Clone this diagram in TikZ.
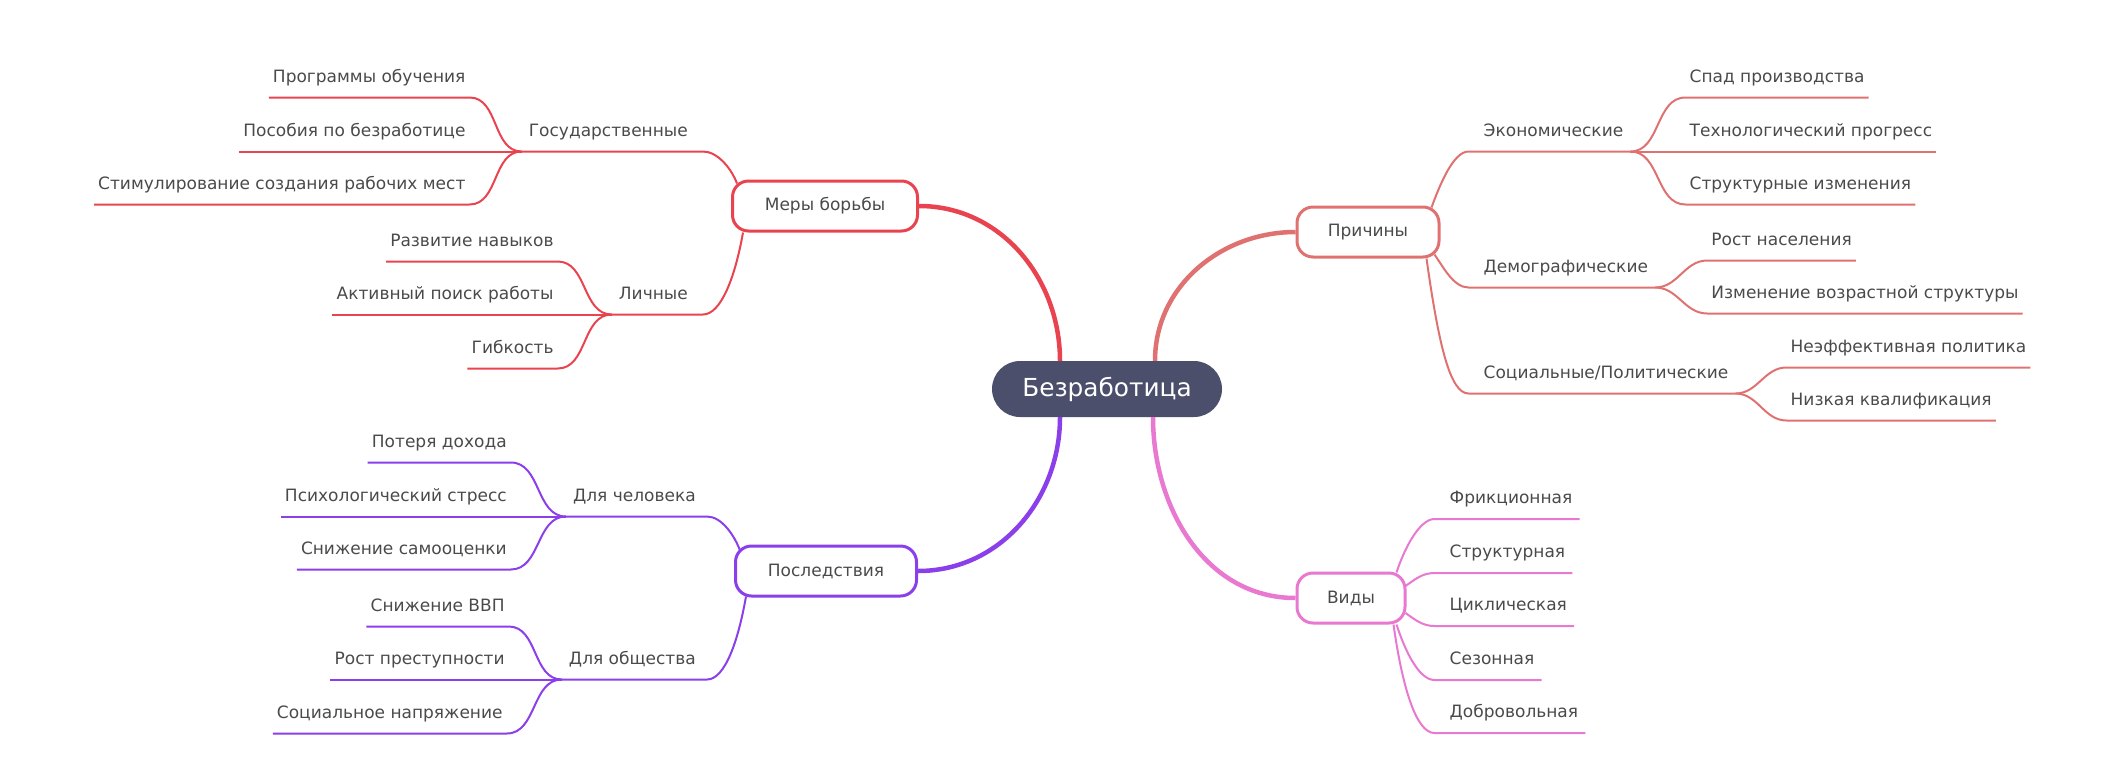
\documentclass[tikz,border=0pt]{standalone}
\usepackage{fontspec}
\setmainfont{DejaVu Sans}
\usetikzlibrary{positioning}

\definecolor{colCentro}{HTML}{4B4F6C}
\definecolor{colTexto}{HTML}{4A4A4A}
\definecolor{colCausas}{HTML}{E07171}
\definecolor{colMedidas}{HTML}{E8434F}
\definecolor{colConsec}{HTML}{8B3FEA}
\definecolor{colTipos}{HTML}{E878D0}

\begin{document}
\begin{tikzpicture}[x=1pt, y=1pt]
        % Estilos
        \tikzstyle{nodoCentral} = [rectangle, rounded corners=28pt, fill=colCentro, text=white, minimum width=230pt, minimum height=56pt, font=\fontsize{24.8}{29}\selectfont]
        \tikzstyle{nodoRama} = [draw, rectangle, rounded corners=16pt, line width=3pt, fill=white, text=colTexto, minimum height=50pt, font=\fontsize{17}{21}\selectfont]
        \tikzstyle{nodoEtiqueta} = [inner xsep=7pt, inner ysep=4pt, text height=13pt, text depth=11pt, text=colTexto, font=\fontsize{17}{21}\selectfont]
        \tikzstyle{nodoHoja} = [nodoEtiqueta, inner xsep=4pt]
        \tikzstyle{enlace} = [line width=4.5pt]
        \tikzstyle{linea} = [line width=2pt]

        \useasboundingbox (0,0) rectangle (2126,-777);

        % Nodo central
        \node[nodoCentral] (central) at (1107,-389) {Безработица};

        % Ramas principales
        \node[nodoRama, draw=colCausas, minimum width=142pt] (causas) at (1368,-232) {Причины};
        \node[nodoRama, draw=colMedidas, minimum width=185pt] (medidas) at (825,-206) {Меры борьбы};
        \node[nodoRama, draw=colConsec, minimum width=181pt] (consecuencias) at (826,-571) {Последствия};
        \node[nodoRama, draw=colTipos, minimum width=108pt] (tipos) at (1351,-598) {Виды};

        % Causas
        \node[nodoEtiqueta, above right=54pt and 36pt of causas.north east] (economicas) {Экономические};
        \node[nodoEtiqueta, below right=29pt and 36pt of causas.south east, anchor=south west] (demograficas) {Демографические};
        \node[nodoEtiqueta, below right=135pt and 36pt of causas.south east, anchor=south west] (sociales) {Социальные/Политические};

        \node[nodoHoja, above right=54pt and 55pt of economicas.south east] (spad) {Спад производства};
        \node[nodoHoja, above right=0pt and 55pt of economicas.south east] (progreso) {Технологический прогресс};
        \node[nodoHoja, below right=53pt and 55pt of economicas.south east, anchor=south west] (estructura) {Структурные изменения};
        \node[nodoHoja, above right=27pt and 52pt of demograficas.south east] (poblacion) {Рост населения};
        \node[nodoHoja, below right=26pt and 52pt of demograficas.south east, anchor=south west] (edades) {Изменение возрастной структуры};
        \node[nodoHoja, above right=26pt and 51pt of sociales.south east] (politica) {Неэффективная политика};
        \node[nodoHoja, below right=27pt and 51pt of sociales.south east, anchor=south west] (calificacion) {Низкая квалификация};

        % Tipos
        \node[nodoEtiqueta, above right=79pt and 36pt of tipos.east] (friccional) {Фрикционная};
        \node[nodoEtiqueta, above right=25pt and 36pt of tipos.east] (estructural) {Структурная};
        \node[nodoEtiqueta, below right=28pt and 36pt of tipos.east, anchor=south west] (ciclica) {Циклическая};
        \node[nodoEtiqueta, below right=82pt and 36pt of tipos.east, anchor=south west] (estacional) {Сезонная};
        \node[nodoEtiqueta, below right=135pt and 36pt of tipos.east, anchor=south west] (voluntaria) {Добровольная};

        % Medidas
        \node[nodoEtiqueta, above left=28pt and 36pt of medidas.north west] (gobierno) {Государственные};
        \node[nodoEtiqueta, below left=82pt and 36pt of medidas.south west, anchor=south east] (personales) {Личные};

        \node[nodoHoja, above left=54pt and 52pt of gobierno.south west] (programas) {Программы обучения};
        \node[nodoHoja, above left=0pt and 52pt of gobierno.south west] (subsidios) {Пособия по безработице};
        \node[nodoHoja, below left=53pt and 52pt of gobierno.south west, anchor=south east] (empleos) {Стимулирование создания рабочих мест};
        \node[nodoHoja, above left=53pt and 54pt of personales.south west] (habilidades) {Развитие навыков};
        \node[nodoHoja, above left=0pt and 54pt of personales.south west] (busqueda) {Активный поиск работы};
        \node[nodoHoja, below left=54pt and 54pt of personales.south west, anchor=south east] (flexibilidad) {Гибкость};

        % Consecuencias
        \node[nodoEtiqueta, above left=28pt and 31pt of consecuencias.north west] (individuo) {Для человека};
        \node[nodoEtiqueta, below left=82pt and 31pt of consecuencias.south west, anchor=south east] (sociedad) {Для общества};

        \node[nodoHoja, above left=54pt and 55pt of individuo.south west] (ingresos) {Потеря дохода};
        \node[nodoHoja, above left=0pt and 55pt of individuo.south west] (estres) {Психологический стресс};
        \node[nodoHoja, below left=53pt and 55pt of individuo.south west, anchor=south east] (autoestima) {Снижение самооценки};
        \node[nodoHoja, above left=53pt and 53pt of sociedad.south west] (pib) {Снижение ВВП};
        \node[nodoHoja, above left=0pt and 53pt of sociedad.south west] (crimen) {Рост преступности};
        \node[nodoHoja, below left=54pt and 55pt of sociedad.south west, anchor=south east] (tension) {Социальное напряжение};

        % Enlaces principales
        \draw[enlace, colCausas] ([xshift=48pt]central.north) to[out=90, in=180] (causas.west);
        \draw[enlace, colMedidas] ([xshift=-47pt]central.north) to[out=90, in=0] (medidas.east);
        \draw[enlace, colConsec] ([xshift=-47pt]central.south) to[out=-90, in=0] (consecuencias.east);
        \draw[enlace, colTipos] ([xshift=46pt]central.south) to[out=-90, in=180] (tipos.west);

        % Enlaces de causas
        \draw[linea, colCausas] ([xshift=-9pt, yshift=-2pt]causas.north east) to[out=70, in=180, out distance=25pt, in distance=15pt] ([xshift=-8pt]economicas.south west) -- (economicas.south east);
        \draw[linea, colCausas] ([xshift=-6pt, yshift=4pt]causas.south east) to[out=-55, in=180, out distance=15pt, in distance=15pt] ([xshift=-8pt]demograficas.south west) -- (demograficas.south east);
        \draw[linea, colCausas] ([xshift=-14pt]causas.south east) to[out=-82, in=180, out distance=90pt, in distance=18pt] ([xshift=-8pt]sociales.south west) -- (sociales.south east);
        \draw[linea, colCausas] (economicas.south east) to[out=0, in=180] (spad.south west) -- (spad.south east);
        \draw[linea, colCausas] (economicas.south east) -- (progreso.south west) -- (progreso.south east);
        \draw[linea, colCausas] (economicas.south east) to[out=0, in=180] (estructura.south west) -- (estructura.south east);
        \draw[linea, colCausas] (demograficas.south east) to[out=0, in=180] (poblacion.south west) -- (poblacion.south east);
        \draw[linea, colCausas] (demograficas.south east) to[out=0, in=180] (edades.south west) -- (edades.south east);
        \draw[linea, colCausas] (sociales.south east) to[out=0, in=180] (politica.south west) -- (politica.south east);
        \draw[linea, colCausas] (sociales.south east) to[out=0, in=180] (calificacion.south west) -- (calificacion.south east);

        % Enlaces de tipos
        \draw[linea, colTipos] ([xshift=-10pt, yshift=-1pt]tipos.north east) to[out=72, in=180, out distance=25pt, in distance=15pt] ([xshift=-8pt]friccional.south west) -- (friccional.south east);
        \draw[linea, colTipos] ([xshift=-1pt, yshift=12pt]tipos.east) to[out=35, in=180, out distance=12pt, in distance=12pt] ([xshift=-8pt]estructural.south west) -- (estructural.south east);
        \draw[linea, colTipos] ([xshift=-1pt, yshift=-15pt]tipos.east) to[out=-35, in=180, out distance=12pt, in distance=12pt] ([xshift=-8pt]ciclica.south west) -- (ciclica.south east);
        \draw[linea, colTipos] ([xshift=-10pt]tipos.south east) to[out=-72, in=180, out distance=30pt, in distance=15pt] ([xshift=-8pt]estacional.south west) -- (estacional.south east);
        \draw[linea, colTipos] ([xshift=-13pt]tipos.south east) to[out=-82, in=180, out distance=65pt, in distance=18pt] ([xshift=-8pt]voluntaria.south west) -- (voluntaria.south east);

        % Enlaces de medidas
        \draw[linea, colMedidas] ([xshift=6pt, yshift=-4pt]medidas.north west) to[out=110, in=0, out distance=15pt, in distance=15pt] ([xshift=8pt]gobierno.south east) -- (gobierno.south west);
        \draw[linea, colMedidas] ([xshift=12pt]medidas.south west) to[out=-100, in=0, out distance=45pt, in distance=18pt] ([xshift=8pt]personales.south east) -- (personales.south west);
        \draw[linea, colMedidas] (gobierno.south west) to[out=180, in=0] (programas.south east) -- (programas.south west);
        \draw[linea, colMedidas] (gobierno.south west) -- (subsidios.south east) -- (subsidios.south west);
        \draw[linea, colMedidas] (gobierno.south west) to[out=180, in=0] (empleos.south east) -- (empleos.south west);
        \draw[linea, colMedidas] (personales.south west) to[out=180, in=0] (habilidades.south east) -- (habilidades.south west);
        \draw[linea, colMedidas] (personales.south west) -- (busqueda.south east) -- (busqueda.south west);
        \draw[linea, colMedidas] (personales.south west) to[out=180, in=0] (flexibilidad.south east) -- (flexibilidad.south west);

        % Enlaces de consecuencias
        \draw[linea, colConsec] ([xshift=6pt, yshift=-6pt]consecuencias.north west) to[out=110, in=0, out distance=15pt, in distance=15pt] ([xshift=4pt]individuo.south east) -- (individuo.south west);
        \draw[linea, colConsec] ([xshift=12pt, yshift=1pt]consecuencias.south west) to[out=-100, in=0, out distance=45pt, in distance=18pt] ([xshift=4pt]sociedad.south east) -- (sociedad.south west);
        \draw[linea, colConsec] (individuo.south west) to[out=180, in=0] (ingresos.south east) -- (ingresos.south west);
        \draw[linea, colConsec] (individuo.south west) -- (estres.south east) -- (estres.south west);
        \draw[linea, colConsec] (individuo.south west) to[out=180, in=0] (autoestima.south east) -- (autoestima.south west);
        \draw[linea, colConsec] (sociedad.south west) to[out=180, in=0] (pib.south east) -- (pib.south west);
        \draw[linea, colConsec] (sociedad.south west) -- (crimen.south east) -- (crimen.south west);
        \draw[linea, colConsec] (sociedad.south west) to[out=180, in=0] (tension.south east) -- (tension.south west);
\end{tikzpicture}
\end{document}
